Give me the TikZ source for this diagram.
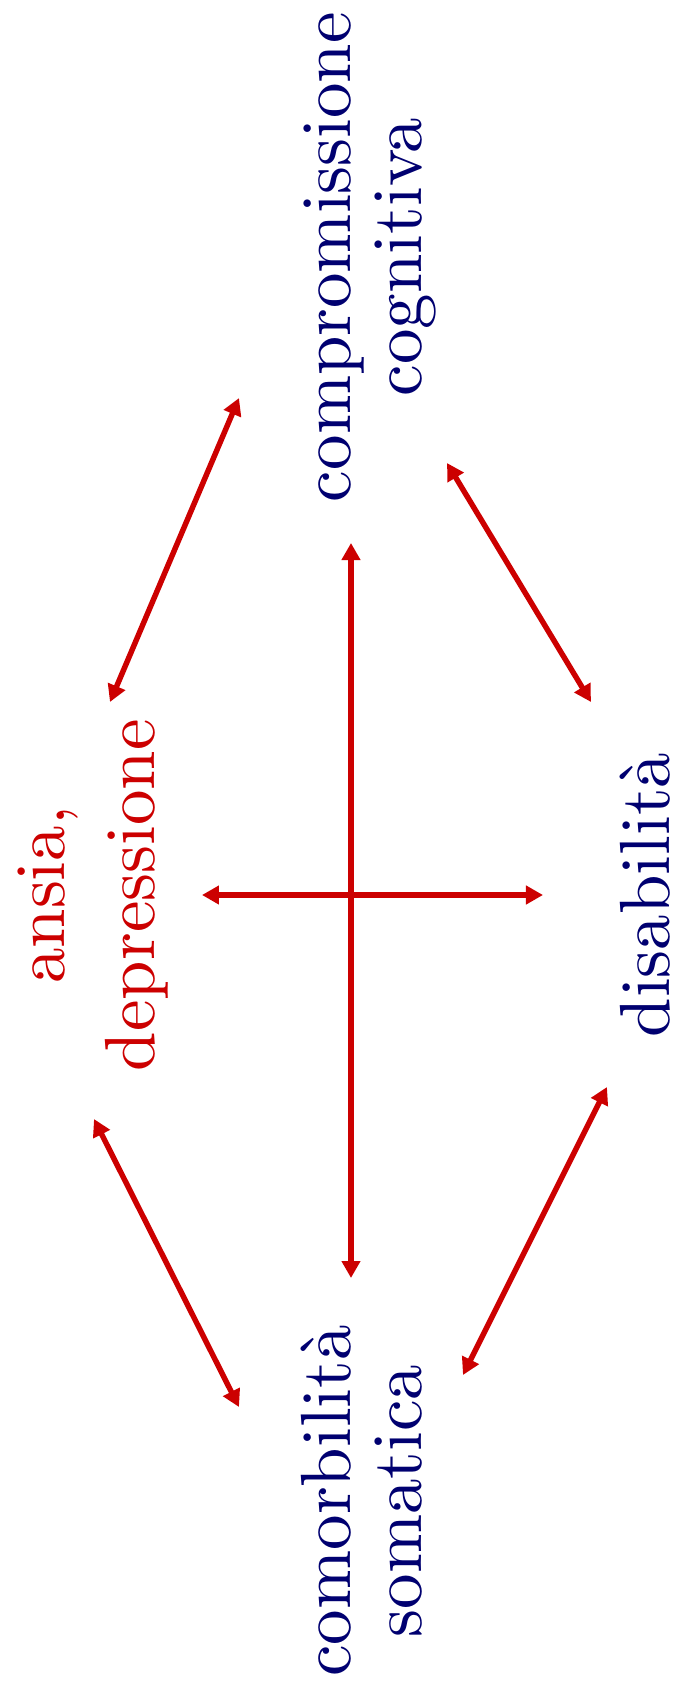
\documentclass[tikz,border=0pt]{standalone}
\usepackage{xcolor}
\usepackage{tikz}
\usetikzlibrary{arrows.meta,calc}
\definecolor{Navy}{HTML}{000070}
\definecolor{Red}{HTML}{CC0000}
\tikzset{
  linkarrow/.style={{Triangle[length=1.7mm,width=1.8mm]}-{Triangle[length=1.7mm,width=1.8mm]}, line width=1.55pt, draw=Red},
  termnode/.style={align=center, inner sep=0pt, text=Navy, font=\fontsize{10}{10}\selectfont, scale=2.02},
  rednode/.style={termnode, text=Red},
}
\begin{document}
\begin{tikzpicture}[rotate=90, transform shape]
\path[use as bounding box] (-7.98,-3.26) rectangle (8.95,3.51);

\node[termnode] (cc) at (6.38,-0.19) {compromissione\\cognitiva};
\node[termnode] (cs) at (-6.06,-0.11) {comorbilità\\somatica};
\node[rednode] (ad) at (0,2.58) {ansia,\\[0.094cm]depressione};
\node[termnode] (dis) at (0,-2.94) {disabilità};

% cross
\draw[linkarrow] ($(cs)+(2.23,0.11)$) -- ($(cc)+(-2.86,0.19)$);
\draw[linkarrow] ($(ad)+(0,-1.09)$) -- ($(dis)+(0,1.02)$);

% outer links
\draw[linkarrow] ($(ad)+(1.93,-0.17)$) -- ($(cc)+(-1.41,1.31)$);
\draw[linkarrow] ($(cc)+(-2.06,-0.77)$) -- ($(dis)+(1.93,0.54)$);
\draw[linkarrow] ($(ad)+(-2.24,-0.01)$) -- ($(cs)+(0.94,1.23)$);
\draw[linkarrow] ($(cs)+(1.26,-1.01)$) -- ($(dis)+(-1.92,0.38)$);
\end{tikzpicture}
\end{document}
